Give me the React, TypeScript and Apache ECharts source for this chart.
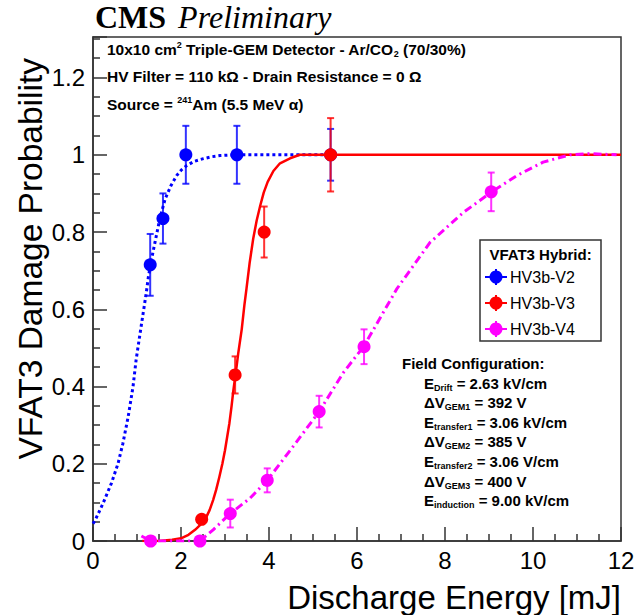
import React, { useEffect, useRef } from "react";
import * as echarts from "echarts";

// ---- measured points (x = discharge energy [mJ], y = damage probability, err = ±) ----
const v2X = [1.3, 1.59, 2.11, 3.27, 5.4];
const v2Y = [0.715, 0.835, 1.0, 1.0, 1.0];
const v2Err = [0.08, 0.065, 0.075, 0.075, 0.067];

const v3X = [2.47, 3.23, 3.89, 5.4];
const v3Y = [0.056, 0.43, 0.8, 1.0];
const v3Err = [0, 0.048, 0.066, 0.095];

const v4X = [1.31, 2.43, 3.12, 3.96, 5.14, 6.16, 9.05];
const v4Y = [0, 0, 0.071, 0.157, 0.335, 0.503, 0.904];
const v4Err = [0, 0, 0.036, 0.031, 0.041, 0.045, 0.05];

// ---- fit curves ----
const v2FitX = [0, 0.05, 0.23, 0.42, 0.57, 0.68, 0.8, 0.91, 0.98, 1.06, 1.14, 1.21, 1.26, 1.34, 1.41, 1.52, 1.64, 1.77, 1.9, 2.01, 2.13, 2.3, 2.51, 2.7, 2.89, 3.2, 3.5, 4.5, 5.4];
const v2FitY = [0.045, 0.054, 0.098, 0.15, 0.201, 0.253, 0.322, 0.4, 0.469, 0.53, 0.59, 0.642, 0.685, 0.735, 0.774, 0.835, 0.886, 0.92, 0.946, 0.961, 0.972, 0.983, 0.99, 0.995, 0.998, 1.0, 1.0, 1.0, 1.0];

const v3FitX = [1.12, 1.5, 1.8, 2.0, 2.17, 2.32, 2.45, 2.55, 2.65, 2.73, 2.8, 2.87, 2.94, 3.0, 3.05, 3.1, 3.15, 3.19, 3.25, 3.3, 3.38, 3.44, 3.49, 3.56, 3.64, 3.72, 3.8, 3.88, 3.97, 4.1, 4.25, 4.48, 4.7, 5.4, 8, 12];
const v3FitY = [0.0, 0.0, 0.003, 0.007, 0.016, 0.029, 0.043, 0.056, 0.08, 0.106, 0.133, 0.165, 0.2, 0.235, 0.27, 0.305, 0.35, 0.39, 0.44, 0.485, 0.548, 0.61, 0.655, 0.72, 0.782, 0.83, 0.868, 0.902, 0.93, 0.958, 0.978, 0.991, 1.0, 1.0, 1.0, 1.0];

const v4FitX = [1.1, 1.31, 1.8, 2.43, 2.73, 3.12, 3.57, 3.96, 4.55, 5.14, 5.69, 6.16, 6.9, 7.66, 8.42, 9.1, 9.63, 10.23, 10.84, 11.3, 11.9];
const v4FitY = [0.013, 0.0, 0.0, 0.0, 0.029, 0.071, 0.111, 0.157, 0.245, 0.335, 0.436, 0.505, 0.652, 0.773, 0.851, 0.907, 0.946, 0.981, 1.0, 1.003, 1.0];

// ---- axes ----
const xTicks = [0, 2, 4, 6, 8, 10, 12];
const yTicks = [0, 0.2, 0.4, 0.6, 0.8, 1.0, 1.2];

const seriesNames = ["HV3b-V2", "HV3b-V3", "HV3b-V4"];
const seriesColors = ["#0000ff", "#ff0000", "#ff00ff"];

const headerLines = [
  "{b|10x10 cm}{sup|2}{b| Triple-GEM Detector - Ar/CO}{sub|2}{b| (70/30%)}",
  "{b|HV Filter = 110 kΩ - Drain Resistance = 0 Ω}",
  "{b|Source = }{sup|241}{b|Am (5.5 MeV α)}",
];

const fieldLines = [
  "{b|E}{sub|Drift}{b| = 2.63 kV/cm}",
  "{b|ΔV}{sub|GEM1}{b| = 392 V}",
  "{b|E}{sub|transfer1}{b| = 3.06 kV/cm}",
  "{b|ΔV}{sub|GEM2}{b| = 385 V}",
  "{b|E}{sub|transfer2}{b| = 3.06 V/cm}",
  "{b|ΔV}{sub|GEM3}{b| = 400 V}",
  "{b|E}{sub|induction}{b| = 9.00 kV/cm}",
];

const SANS = "'Liberation Sans', Arial, Helvetica, sans-serif";
const SERIF = "'Liberation Serif', 'Times New Roman', serif";

function pairs(xs: number[], ys: number[]) {
  return xs.map((x, i) => [x, ys[i]]);
}
function triples(xs: number[], ys: number[], es: number[]) {
  return xs.map((x, i) => [x, ys[i], es[i]]);
}

function errorBarRender(color: string) {
  return (params: any, api: any) => {
    const x = api.value(0);
    const y = api.value(1);
    const e = api.value(2);
    if (!e) return null;
    const top = api.coord([x, y + e]);
    const bot = api.coord([x, y - e]);
    const c = 3.5;
    const st = { stroke: color, lineWidth: 2, opacity: 0.8 };
    return {
      type: "group",
      children: [
        { type: "line", shape: { x1: top[0], y1: top[1], x2: bot[0], y2: bot[1] }, style: st },
        { type: "line", shape: { x1: top[0] - c, y1: top[1], x2: top[0] + c, y2: top[1] }, style: st },
        { type: "line", shape: { x1: bot[0] - c, y1: bot[1], x2: bot[0] + c, y2: bot[1] }, style: st },
      ],
    };
  };
}

const richBase = {
  b: { fontFamily: SANS, fontWeight: "bold", fontSize: 15.5, lineHeight: 20, verticalAlign: "middle", fill: "#000" },
  sup: { fontFamily: SANS, fontWeight: "bold", fontSize: 9, lineHeight: 20, verticalAlign: "top", padding: [1, 0, 0, 0], fill: "#000" },
  sub: { fontFamily: SANS, fontWeight: "bold", fontSize: 9, lineHeight: 20, verticalAlign: "bottom", padding: [0, 0, 1, 0], fill: "#000" },
};
const richField = {
  b: { fontFamily: SANS, fontWeight: "bold", fontSize: 15, lineHeight: 20, verticalAlign: "middle", fill: "#000" },
  sub: { fontFamily: SANS, fontWeight: "bold", fontSize: 9, lineHeight: 20, verticalAlign: "bottom", padding: [0, 0, 1, 0], fill: "#000" },
};

export default function App() {
  const ref = useRef<HTMLDivElement>(null);
  useEffect(() => {
    if (!ref.current) return;
    const chart = echarts.init(ref.current, null, { renderer: "svg" });

    const fitX = [v2FitX, v3FitX, v4FitX];
    const fitY = [v2FitY, v3FitY, v4FitY];
    const ptX = [v2X, v3X, v4X];
    const ptY = [v2Y, v3Y, v4Y];
    const ptE = [v2Err, v3Err, v4Err];
    const lineTypes: any[] = [[3, 3], "solid", [8, 4, 2, 4]];
    const lineWidths = [3, 2.5, 3];

    const series: any[] = [];
    for (let k = 0; k < 3; k++) {
      series.push({
        type: "line",
        name: seriesNames[k] + " fit",
        data: pairs(fitX[k], fitY[k]),
        showSymbol: false,
        smooth: false,
        lineStyle: { color: seriesColors[k], width: lineWidths[k], type: lineTypes[k], join: "round" },
        z: 2 + k * 3,
        silent: true,
      });
      series.push({
        type: "custom",
        name: seriesNames[k] + " err",
        data: triples(ptX[k], ptY[k], ptE[k]),
        renderItem: errorBarRender(seriesColors[k]),
        z: 3 + k * 3,
        silent: true,
      });
      series.push({
        type: "scatter",
        name: seriesNames[k],
        data: pairs(ptX[k], ptY[k]),
        symbol: "circle",
        symbolSize: 13,
        itemStyle: { color: seriesColors[k], opacity: 1 },
        z: 4 + k * 3,
      });
    }

    // legend drawn as graphics
    const legX = 480, legY = 240, legW = 121, legH = 101;
    const legendEls: any[] = [
      { type: "rect", shape: { x: legX, y: legY, width: legW, height: legH }, style: { fill: "#fff", stroke: "#333", lineWidth: 1.5 }, z: 100 },
      { type: "text", x: legX + legW / 2, y: legY + 14, style: { text: "VFAT3 Hybrid:", font: `bold 15px ${SANS}`, fill: "#000", align: "center", verticalAlign: "middle" }, z: 101 },
    ];
    seriesNames.forEach((nm, k) => {
      const cy = legY + 37 + k * 26;
      const cx = legX + 16;
      legendEls.push(
        { type: "line", shape: { x1: cx - 11, y1: cy, x2: cx + 11, y2: cy }, style: { stroke: seriesColors[k], lineWidth: 2 }, z: 101 },
        { type: "line", shape: { x1: cx, y1: cy - 8, x2: cx, y2: cy + 8 }, style: { stroke: seriesColors[k], lineWidth: 2 }, z: 101 },
        { type: "circle", shape: { cx, cy, r: 6.5 }, style: { fill: seriesColors[k] }, z: 102 },
        { type: "text", x: legX + 30, y: cy, style: { text: nm, font: `16px ${SANS}`, fill: "#000", verticalAlign: "middle" }, z: 101 }
      );
    });

    const graphics: any[] = [
      // CMS Preliminary
      {
        type: "text",
        left: 95,
        top: 1,
        style: {
          text: "{c|CMS}{p|Preliminary}",
          rich: {
            c: { fontFamily: SERIF, fontWeight: "bold", fontSize: 32, fill: "#000", padding: [0, 12, 0, 0] },
            p: { fontFamily: SERIF, fontStyle: "italic", fontSize: 32, fill: "#000" },
          },
        },
      },
      // axis titles
      {
        type: "text",
        x: 621,
        y: 597,
        style: { text: "Discharge Energy [mJ]", font: `33px ${SANS}`, fill: "#000", align: "right", verticalAlign: "middle" },
      },
      {
        type: "text",
        x: 30,
        y: 58,
        rotation: Math.PI / 2,
        style: { text: "VFAT3 Damage Probability", font: `33.5px ${SANS}`, fill: "#000", align: "right", verticalAlign: "middle" },
      },
      ...headerLines.map((t, i) => ({
        type: "text",
        x: 107,
        y: 49 + i * 27.5,
        style: { text: t, rich: richBase, verticalAlign: "middle" },
        z: 50,
      })),
      {
        type: "text",
        x: 402,
        y: 363,
        style: { text: "Field Configuration:", font: `bold 15px ${SANS}`, fill: "#000", verticalAlign: "middle" },
        z: 50,
      },
      ...fieldLines.map((t, i) => ({
        type: "text",
        x: 424,
        y: 383 + i * 19.6,
        style: { text: t, rich: richField, verticalAlign: "middle" },
        z: 50,
      })),
      ...legendEls,
    ];

    chart.setOption({
      animation: false,
      backgroundColor: "#fff",
      grid: { left: 93, right: 17, top: 37, bottom: 74, show: true, borderColor: "#333", borderWidth: 1.5, backgroundColor: "transparent" },
      xAxis: {
        type: "value",
        min: xTicks[0],
        max: xTicks[xTicks.length - 1],
        interval: xTicks[1] - xTicks[0],
        axisLine: { show: true, lineStyle: { color: "#333", width: 1.5 } },
        axisTick: { show: true, inside: true, length: 14, lineStyle: { color: "#333", width: 1.5 } },
        minorTick: { show: true, splitNumber: 4, length: 7, lineStyle: { color: "#333", width: 1.5 } },
        splitLine: { show: false },
        axisLabel: { fontFamily: SANS, fontSize: 24, color: "#000", margin: 7 },
      },
      yAxis: {
        type: "value",
        min: yTicks[0],
        max: 1.305,
        interval: yTicks[1] - yTicks[0],
        axisLine: { show: true, lineStyle: { color: "#333", width: 1.5 } },
        axisTick: { show: true, inside: true, length: 14, lineStyle: { color: "#333", width: 1.5 } },
        minorTick: { show: true, splitNumber: 4, length: 7, lineStyle: { color: "#333", width: 1.5 } },
        splitLine: { show: false },
        axisLabel: {
          fontFamily: SANS,
          fontSize: 24,
          color: "#000",
          margin: 8,
          showMaxLabel: false,
          formatter: (v: number) => (yTicks.some((t) => Math.abs(t - v) < 1e-6) ? String(Math.round(v * 10) / 10) : ""),
        },
      },
      series,
      graphic: graphics,
    });
    return () => chart.dispose();
  }, []);
  return <div ref={ref} style={{ position: "fixed", left: 0, top: 0, width: 638, height: 615 }} />;
}
